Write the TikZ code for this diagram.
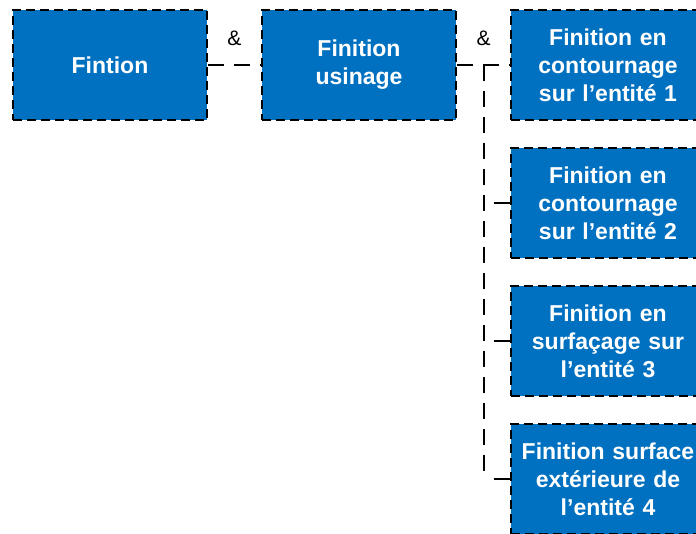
\documentclass[tikz,border=0pt]{standalone}
\usepackage{fontspec}
\setmainfont{Liberation Sans}
\usetikzlibrary{positioning, calc}
\definecolor{myblue}{RGB}{0,112,192}
\tikzset{
  block/.style={rectangle, draw=black, fill=myblue, text=white,
    dash pattern=on 9pt off 5pt, line width=2pt,
    minimum width=194pt, minimum height=110pt, text width=186pt,
    align=center, inner sep=0pt,
    font=\fontsize{23}{28}\selectfont\bfseries},
  link/.style={draw=black, line width=2pt, dash pattern=on 16pt off 10pt},
  amp/.style={font=\fontsize{21}{24}\selectfont, inner sep=0pt}
}
\begin{document}
\begin{tikzpicture}[x=1pt, y=-1pt]
  \useasboundingbox (0,0) rectangle (696,534);

  % main chain
  \node[block] (fin) at (110,65) {Fintion};
  \node[block, right=53pt of fin] (usin) {Finition\\usinage};
  \node[block, right=53pt of usin] (ent1) {Finition en\\contournage\\sur l’entité 1};

  % sub tasks
  \node[block, below=26pt of ent1] (ent2) {Finition en\\contournage\\sur l’entité 2};
  \node[block, below=26pt of ent2] (ent3) {Finition en\\surfaçage sur\\l’entité 3};
  \node[block, below=26pt of ent3] (ent4) {Finition surface\\extérieure de\\l’entité 4};

  % links
  \draw[link] (fin.east) -- (usin.west) node[amp, midway, above=18pt] (and1) {\&};
  \draw[link] (usin.east) -- (ent1.west) node[amp, midway, above=18pt] (and2) {\&};
  \coordinate (trunk) at ($(usin.east)!0.5!(ent1.west)$);
  \draw[link] (trunk) -- (trunk |- ent4.west);
  \draw[link] (trunk |- ent2.west) ++(10,0) -- (ent2.west);
  \draw[link] (trunk |- ent3.west) ++(10,0) -- (ent3.west);
  \draw[link] (trunk |- ent4.west) ++(10,0) -- (ent4.west);
\end{tikzpicture}
\end{document}
